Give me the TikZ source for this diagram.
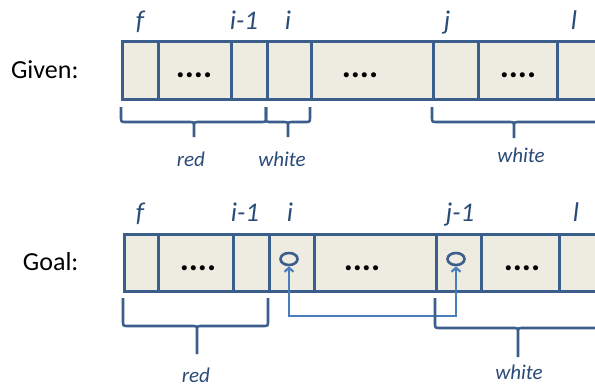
\documentclass[tikz,border=0pt]{standalone}
\usepackage{fontspec}
\setmainfont{Carlito}
\usetikzlibrary{shapes.geometric,arrows.meta}
\definecolor{cellfill}{HTML}{EEECE1}
\definecolor{cellline}{HTML}{3B5E8C}
\definecolor{labelblue}{HTML}{2A4B78}
\definecolor{swapblue}{HTML}{4A7EBB}
\tikzset{
  cell/.style={draw=cellline, fill=cellfill, line width=2.6pt, minimum height=#1, inner sep=0pt, anchor=north west},
  idx/.style={text=labelblue, font=\fontsize{27}{30}\selectfont\itshape, anchor=base},
  part/.style={text=labelblue, font=\fontsize{21}{24}\selectfont\itshape, anchor=base},
  rowname/.style={text=black, font=\fontsize{26}{30}\selectfont, anchor=base east},
  dots/.style={font=\fontsize{34}{36}\selectfont\bfseries, inner sep=0pt},
  brace/.style={draw=cellline, line width=2.6pt, line join=round},
  marker/.style={ellipse, draw=cellline, line width=2.6pt, minimum width=17pt, minimum height=12pt, inner sep=0pt},
  swap/.style={draw=swapblue, line width=2.2pt, {Straight Barb[length=4pt,width=9pt]}-{Straight Barb[length=4pt,width=9pt]}}
}
\begin{document}
\begin{tikzpicture}[x=1pt,y=-1pt]
\useasboundingbox (0,0) rectangle (595,388);
\clip (0,0) rectangle (595,388);

% ---- Given row ----
\node[rowname] (given) at (82,78) {Given:};
\foreach \a/\b/\n in {121/157/ga,157/230/gb,230/266/gc,266/310/gd,310/432/ge,432/477/gf,477/556/gg,556/640/gh}
  \node[cell=58pt, minimum width={\b pt-\a pt}] (\n) at (\a,40) {};
\node[dots] (gdots1) at (194,75) {....};
\node[dots] (gdots2) at (360,75) {....};
\node[dots] (gdots3) at (518,75) {....};
\node[idx] (gf-lbl) at (140,29) {f};
\node[idx] (gim1-lbl) at (244,29) {i-1};
\node[idx] (gi-lbl) at (288,29) {i};
\node[idx] (gj-lbl) at (447,29) {j};
\node[idx] (gl-lbl) at (574,29) {l};

% braces under the Given row
\draw[brace] (121,107) -- (121,117) .. controls (121,122) .. (126,122) -- (189,122)
  .. controls (194,122) .. (194,127) -- (194,137)
  (194,127) .. controls (194,122) .. (199,122) -- (261,122) .. controls (266,122) .. (266,117) -- (266,107);
\draw[brace] (266,107) -- (266,117) .. controls (266,122) .. (271,122) -- (283,122)
  .. controls (288,122) .. (288,127) -- (288,137)
  (288,127) .. controls (288,122) .. (293,122) -- (305,122) .. controls (310,122) .. (310,117) -- (310,107);
\draw[brace] (432,107) -- (432,117) .. controls (432,122) .. (437,122) -- (509,122)
  .. controls (514,122) .. (514,127) -- (514,138)
  (514,127) .. controls (514,122) .. (519,122) -- (620,122);
\node[part] (gred) at (191,166) {red};
\node[part] (gwhite1) at (282,166) {white};
\node[part] (gwhite2) at (521,162) {white};

% ---- Goal row ----
\node[rowname] (goal) at (82,270) {Goal:};
\foreach \a/\b/\n in {123/157/oa,157/232/ob,232/268/oc,268/313/od,313/435/oe,435/480/of,480/558/og,558/640/oh}
  \node[cell=57pt, minimum width={\b pt-\a pt}] (\n) at (\a,233) {};
\node[dots] (odots1) at (198,268) {....};
\node[dots] (odots2) at (362,268) {....};
\node[dots] (odots3) at (522,268) {....};
\node[idx] (of-lbl) at (140,221) {f};
\node[idx] (oim1-lbl) at (245,221) {i-1};
\node[idx] (oi-lbl) at (290,221) {i};
\node[idx] (ojm1-lbl) at (460,221) {j-1};
\node[idx] (ol-lbl) at (576,221) {l};

% the two elements that get swapped
\node[marker] (mi) at (289,259) {};
\node[marker] (mj) at (456,259) {};
\draw[swap] (mi.south) -- ++(0,50) -| (mj.south);

% braces under the Goal row
\draw[brace] (123,298) -- (123,321) .. controls (123,326) .. (128,326) -- (192,326)
  .. controls (197,326) .. (197,331) -- (197,354)
  (197,331) .. controls (197,326) .. (202,326) -- (263,326) .. controls (268,326) .. (268,321) -- (268,298);
\draw[brace] (435,298) -- (435,323) .. controls (435,328) .. (440,328) -- (513,328)
  .. controls (518,328) .. (518,333) -- (518,357)
  (518,333) .. controls (518,328) .. (523,328) -- (620,328);
\node[part] (ored) at (196,382) {red};
\node[part] (owhite) at (519,379) {white};
\end{tikzpicture}
\end{document}
